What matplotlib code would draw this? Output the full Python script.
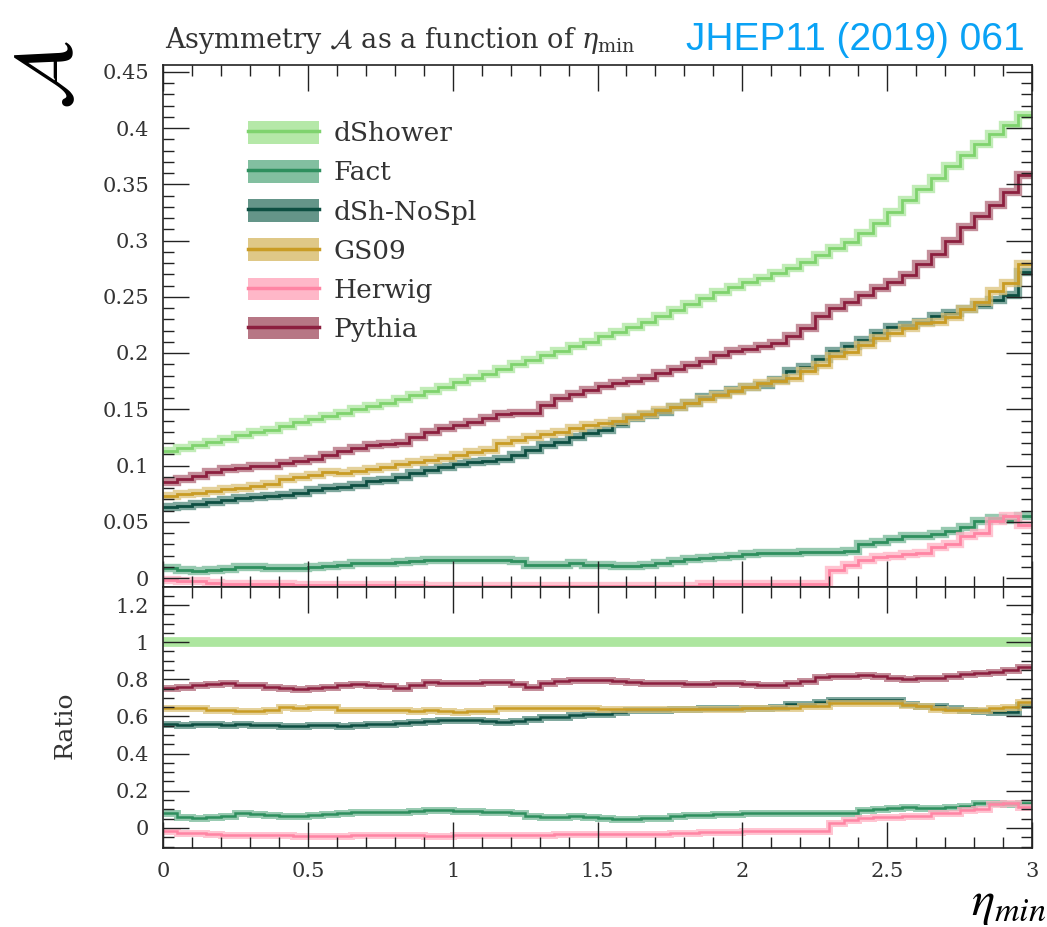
import numpy as np
import matplotlib
matplotlib.use("Agg")
import matplotlib.pyplot as plt
from matplotlib.patches import Rectangle
from matplotlib.lines import Line2D
from matplotlib.legend_handler import HandlerTuple
from matplotlib.ticker import MultipleLocator, FuncFormatter

plt.rcParams['font.family'] = ['DejaVu Serif']
plt.rcParams['mathtext.fontset'] = 'dejavuserif'

# eta_min binning: 60 bins of 0.05 between 0 and 3
edges = np.linspace(0.0, 3.0, 61)

dshower = [0.113, 0.116, 0.118, 0.121, 0.124, 0.127, 0.130, 0.132, 0.135, 0.139,
           0.141, 0.144, 0.147, 0.150, 0.153, 0.156, 0.159, 0.163, 0.166, 0.170,
           0.174, 0.178, 0.181, 0.186, 0.190, 0.194, 0.198, 0.202, 0.206, 0.210,
           0.215, 0.219, 0.223, 0.228, 0.233, 0.238, 0.244, 0.249, 0.254, 0.259,
           0.263, 0.267, 0.271, 0.276, 0.281, 0.287, 0.293, 0.299, 0.307, 0.316,
           0.325, 0.336, 0.346, 0.356, 0.366, 0.376, 0.386, 0.395, 0.403, 0.412]

fact = [0.009, 0.007, 0.006, 0.007, 0.008, 0.010, 0.010, 0.009, 0.009, 0.009,
        0.010, 0.011, 0.012, 0.013, 0.013, 0.013, 0.014, 0.015, 0.016, 0.016,
        0.016, 0.016, 0.016, 0.016, 0.015, 0.012, 0.012, 0.012, 0.013, 0.012,
        0.012, 0.011, 0.011, 0.012, 0.013, 0.015, 0.017, 0.018, 0.019, 0.020,
        0.021, 0.022, 0.022, 0.022, 0.023, 0.023, 0.023, 0.024, 0.030, 0.032,
        0.035, 0.037, 0.037, 0.039, 0.042, 0.045, 0.051, 0.053, 0.052, 0.055]

dsh_nospl = [0.063, 0.064, 0.066, 0.068, 0.069, 0.071, 0.072, 0.073, 0.074, 0.076,
             0.078, 0.080, 0.081, 0.083, 0.086, 0.087, 0.090, 0.093, 0.096, 0.099,
             0.101, 0.103, 0.104, 0.106, 0.109, 0.114, 0.118, 0.121, 0.125, 0.129,
             0.132, 0.137, 0.142, 0.145, 0.148, 0.152, 0.156, 0.161, 0.164, 0.167,
             0.170, 0.172, 0.176, 0.184, 0.188, 0.195, 0.202, 0.206, 0.212, 0.218,
             0.223, 0.225, 0.228, 0.233, 0.236, 0.239, 0.243, 0.247, 0.252, 0.272]

gs09 = [0.073, 0.075, 0.076, 0.077, 0.079, 0.080, 0.082, 0.084, 0.088, 0.090,
        0.092, 0.094, 0.093, 0.095, 0.097, 0.099, 0.101, 0.103, 0.105, 0.107,
        0.109, 0.112, 0.114, 0.120, 0.123, 0.125, 0.128, 0.130, 0.133, 0.136,
        0.138, 0.140, 0.143, 0.146, 0.149, 0.152, 0.156, 0.159, 0.163, 0.166,
        0.170, 0.173, 0.175, 0.178, 0.184, 0.189, 0.197, 0.201, 0.207, 0.213,
        0.218, 0.222, 0.227, 0.228, 0.232, 0.239, 0.245, 0.255, 0.262, 0.279]

herwig = [-0.002, -0.003, -0.003, -0.004, -0.005, -0.005, -0.005, -0.005, -0.005, -0.006,
          -0.006, -0.006, -0.006, -0.006, -0.006, -0.006, -0.006, -0.006, -0.007, -0.007,
          -0.007, -0.007, -0.007, -0.007, -0.007, -0.007, -0.007, -0.007, -0.007, -0.007,
          -0.007, -0.007, -0.007, -0.007, -0.007, -0.007, -0.007, -0.005, -0.005, -0.005,
          -0.005, -0.005, -0.005, -0.005, -0.005, -0.005, 0.007, 0.012, 0.016, 0.019,
          0.020, 0.021, 0.022, 0.028, 0.030, 0.037, 0.040, 0.051, 0.055, 0.047]

pythia = [0.085, 0.088, 0.091, 0.094, 0.097, 0.098, 0.100, 0.100, 0.102, 0.104,
          0.106, 0.109, 0.113, 0.116, 0.118, 0.119, 0.120, 0.125, 0.130, 0.133,
          0.136, 0.139, 0.142, 0.146, 0.147, 0.147, 0.154, 0.160, 0.164, 0.167,
          0.171, 0.173, 0.175, 0.178, 0.182, 0.186, 0.189, 0.193, 0.198, 0.202,
          0.204, 0.206, 0.209, 0.215, 0.222, 0.233, 0.240, 0.245, 0.252, 0.258,
          0.263, 0.269, 0.279, 0.288, 0.300, 0.312, 0.322, 0.332, 0.343, 0.358]

labels = ["dShower", "Fact", "dSh-NoSpl", "GS09", "Herwig", "Pythia"]
series = [dshower, fact, dsh_nospl, gs09, herwig, pythia]
line_colors = ['#7fd36e', '#2e8f5e', '#0d4f42', '#c99c25', '#ff85a4', '#8c1f3f']
band_colors = ['#ade69f', '#74b896', '#538a7c', '#dcc27a', '#ffb0c2', '#b06878']

fig = plt.figure(figsize=(10.47, 9.27), dpi=100)
W, H = 1047.0, 927.0
ax = fig.add_axes([163 / W, 1 - 587 / H, 869 / W, 522 / H])
axr = fig.add_axes([163 / W, 1 - 848 / H, 869 / W, 261 / H], sharex=ax)

ref = np.array(dshower)
for vals, lc, bc in zip(series, line_colors, band_colors):
    v = np.array(vals)
    ax.stairs(v, edges, baseline=None, color=bc, lw=6, alpha=0.75)
    ax.stairs(v, edges, baseline=None, color=lc, lw=2)
    r = v / ref
    if vals is dshower:
        axr.stairs(r, edges, baseline=None, color=bc, lw=7)
    else:
        axr.stairs(r, edges, baseline=None, color=bc, lw=5, alpha=0.75)
        axr.stairs(r, edges, baseline=None, color=lc, lw=1.8)

ax.set_xlim(0, 3)
ax.set_ylim(-0.008, 0.456)
axr.set_ylim(-0.108, 1.297)

fmt = FuncFormatter(lambda x, pos: '%g' % round(x, 3))
ax.xaxis.set_major_locator(MultipleLocator(0.5))
ax.xaxis.set_minor_locator(MultipleLocator(0.1))
ax.yaxis.set_major_locator(MultipleLocator(0.05))
ax.yaxis.set_minor_locator(MultipleLocator(0.01))
ax.yaxis.set_major_formatter(fmt)
axr.yaxis.set_major_locator(MultipleLocator(0.2))
axr.yaxis.set_minor_locator(MultipleLocator(0.05))
axr.yaxis.set_major_formatter(fmt)
axr.xaxis.set_major_formatter(fmt)
ax.tick_params(axis='x', labelbottom=False)

for a in (ax, axr):
    a.tick_params(which='both', direction='in', top=True, right=True,
                  width=1.0, colors='#222222', labelcolor='#333333')
    a.tick_params(which='major', length=19, labelsize=15, pad=10)
    a.tick_params(which='minor', length=8)
    for s in a.spines.values():
        s.set_linewidth(1.2)
        s.set_color('#222222')

handles = [(Rectangle((0, 0), 1, 1, fc=bc, ec='none', alpha=0.9),
            Line2D([], [], color=lc, lw=2.5))
           for lc, bc in zip(line_colors, band_colors)]
ax.legend(handles, labels, handler_map={tuple: HandlerTuple(ndivide=1)},
          loc='upper left', bbox_to_anchor=(0.098, 0.893), frameon=False,
          fontsize=19, borderpad=0, borderaxespad=0, handlelength=2.7,
          handleheight=0.95, handletextpad=0.55, labelspacing=0.52,
          labelcolor='#333333')

fig.text(165 / W, 1 - 40 / H,
         r'Asymmetry $\mathcal{A}$ as a function of $\eta_{\rm min}$',
         ha='left', va='center', fontsize=19.5, color='#333333')
fig.text(1025 / W, 1 - 40 / H, 'JHEP11 (2019) 061', ha='right', va='center',
         fontsize=28, color='#0aa2f5', family='Liberation Sans')
fig.text(48 / W, 1 - 75 / H, r'$\mathcal{A}$', rotation=90, ha='center',
         va='center', fontsize=60, math_fontfamily='stix')
fig.text(65 / W, 1 - 725 / H, 'Ratio', rotation=90, ha='center', va='center',
         fontsize=18, color='#333333')
fig.text(1046 / W, 0.0, r'$\eta_{min}$', ha='right', va='bottom',
         fontsize=35, math_fontfamily='stix')

fig.savefig('out.png', dpi=100)
